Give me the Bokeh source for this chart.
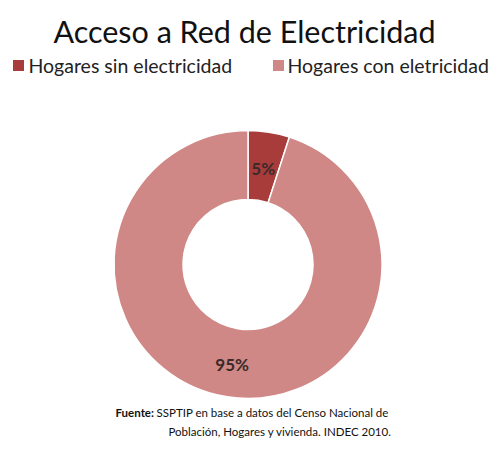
import math
from bokeh.plotting import figure
from bokeh.models import Range1d, ColumnDataSource
from bokeh.core.properties import value
from bokeh.embed import file_html
from bokeh.resources import INLINE

# ---- data ----
title_text = "Acceso a Red de Electricidad"
categories = ["Hogares sin electricidad", "Hogares con eletricidad"]
shares = [5, 95]
labels = ["5%", "95%"]
colors = ["#a83c3a", "#d08886"]
source_bold = "Fuente:"
source_line1 = "SSPTIP en base a datos del Censo Nacional de"
source_line2 = "Población, Hogares y vivienda. INDEC 2010."

FONT = "Lato"
W, H = 494, 449

p = figure(width=W, height=H, output_backend="svg", toolbar_location=None,
           x_range=Range1d(0, W), y_range=Range1d(0, H),
           min_border=0)
p.axis.visible = False
p.grid.visible = False
p.outline_line_color = None
p.background_fill_color = "white"
p.border_fill_color = "white"

def Y(page_y):
    return H - page_y

# donut
cx, cy = 247.5, Y(264)
total = sum(shares)
starts, ends = [], []
a = math.pi / 2
for s in shares:
    starts.append(a)
    a = a - s / total * 2 * math.pi
    ends.append(a)
src = ColumnDataSource(dict(start=starts, end=ends, color=colors, cat=categories))
p.annular_wedge(x=cx, y=cy, inner_radius=65, outer_radius=134,
                start_angle="start", end_angle="end", direction="clock",
                fill_color="color", line_color="white", line_width=1.5, source=src)

# slice labels placed at mid-angle
lx, ly = [], []
for s0, s1, r in zip(starts, ends, [97, 101]):
    mid = (s0 + s1) / 2
    lx.append(cx + r * math.cos(mid))
    ly.append(cy + r * math.sin(mid))
p.text(x=lx, y=ly, text=labels, text_align="center", text_baseline="middle",
       text_font=value(FONT), text_font_size="17px", text_font_style="bold",
       text_color="#3a2a2a")

# title
p.text(x=[244], y=[Y(30)], text=[title_text], text_align="center",
       text_baseline="middle", text_font=value(FONT), text_font_size="30.5px",
       text_color="#111111")

# legend
leg_sq_x = [18, 278]
leg_tx = [28, 287]
p.rect(x=leg_sq_x, y=[Y(65)] * 2, width=11, height=11, fill_color=colors,
       line_color=None)
p.text(x=leg_tx, y=[Y(65)] * 2, text=categories, text_align="left",
       text_baseline="middle", text_font=value(FONT), text_font_size="19.5px",
       text_color="#222222")

# source
p.text(x=[115], y=[Y(412)], text=[source_bold], text_align="left",
       text_baseline="middle", text_font=value(FONT), text_font_size="11.5px",
       text_font_style="bold", text_color="#111111")
p.text(x=[156], y=[Y(412)], text=[source_line1], text_align="left",
       text_baseline="middle", text_font=value(FONT), text_font_size="11.5px",
       text_color="#111111")
p.text(x=[168], y=[Y(431)], text=[source_line2], text_align="left",
       text_baseline="middle", text_font=value(FONT), text_font_size="11.5px",
       text_color="#111111")

open("out.html", "w").write(file_html(p, INLINE))
